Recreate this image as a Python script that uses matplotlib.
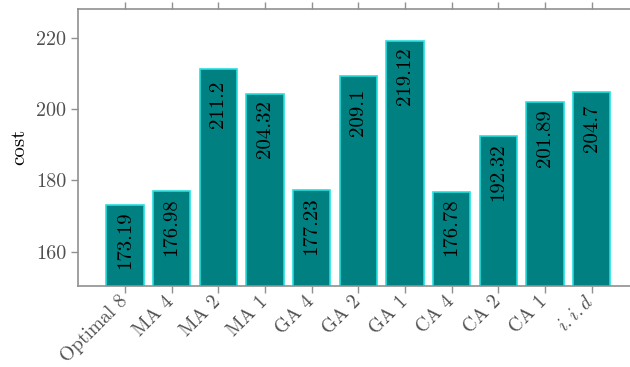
import matplotlib
matplotlib.use("Agg")
import matplotlib.pyplot as plt
from matplotlib.transforms import ScaledTranslation

categories = ["Optimal 8", "MA 4", "MA 2", "MA 1", "GA 4", "GA 2", "GA 1",
              "CA 4", "CA 2", "CA 1", r"$i.i.d$"]
values = [173.19, 176.98, 211.2, 204.32, 177.23, 209.1, 219.12,
          176.78, 192.32, 201.89, 204.7]
labels = ["173.19", "176.98", "211.2", "204.32", "177.23", "209.1", "219.12",
          "176.78", "192.32", "201.89", "204.7"]
yticks = [160, 180, 200, 220]

plt.rcParams["mathtext.fontset"] = "cm"
plt.rcParams["font.family"] = ["cmr10", "DejaVu Serif"]
plt.rcParams["axes.unicode_minus"] = False

fig = plt.figure(figsize=(6.3, 3.67), dpi=100)
W, H = 630, 367
left, right, top, bottom = 78.3, 638.3, 9.0, 285.7
ax = fig.add_axes([left / W, 1 - bottom / H, (right - left) / W, (bottom - top) / H])

x = list(range(len(categories)))
ax.bar(x, values, width=0.8, color="#008080", edgecolor="#22e0e0", linewidth=1.2, zorder=2)

for xi, v, lab in zip(x, values, labels):
    ax.text(xi, v - 10, lab, rotation=90, ha="center", va="center",
            fontsize=15, color="black", zorder=3)

ax.set_xlim(-1, 11)
ax.set_ylim(150.5, 228)
ax.set_yticks(yticks)
ax.set_xticks(x)
ax.set_xticklabels(categories, rotation=45, ha="right")
ax.set_ylabel("cost", fontsize=15, color="black", labelpad=6)

grey = "#909090"
for s in ["left", "bottom", "top"]:
    ax.spines[s].set_color(grey)
    ax.spines[s].set_linewidth(1.2)
ax.spines["right"].set_visible(False)
ax.tick_params(axis="both", direction="out", length=5, color=grey, width=1,
               labelsize=14.5, labelcolor="#505050")
ax.tick_params(axis="x", top=True, bottom=True, pad=2, labelsize=14)

off = ScaledTranslation(6 / 100, 3 / 100, fig.dpi_scale_trans)
for lbl in ax.get_xticklabels():
    lbl.set_transform(lbl.get_transform() + off)

fig.savefig("out.png", dpi=100)
